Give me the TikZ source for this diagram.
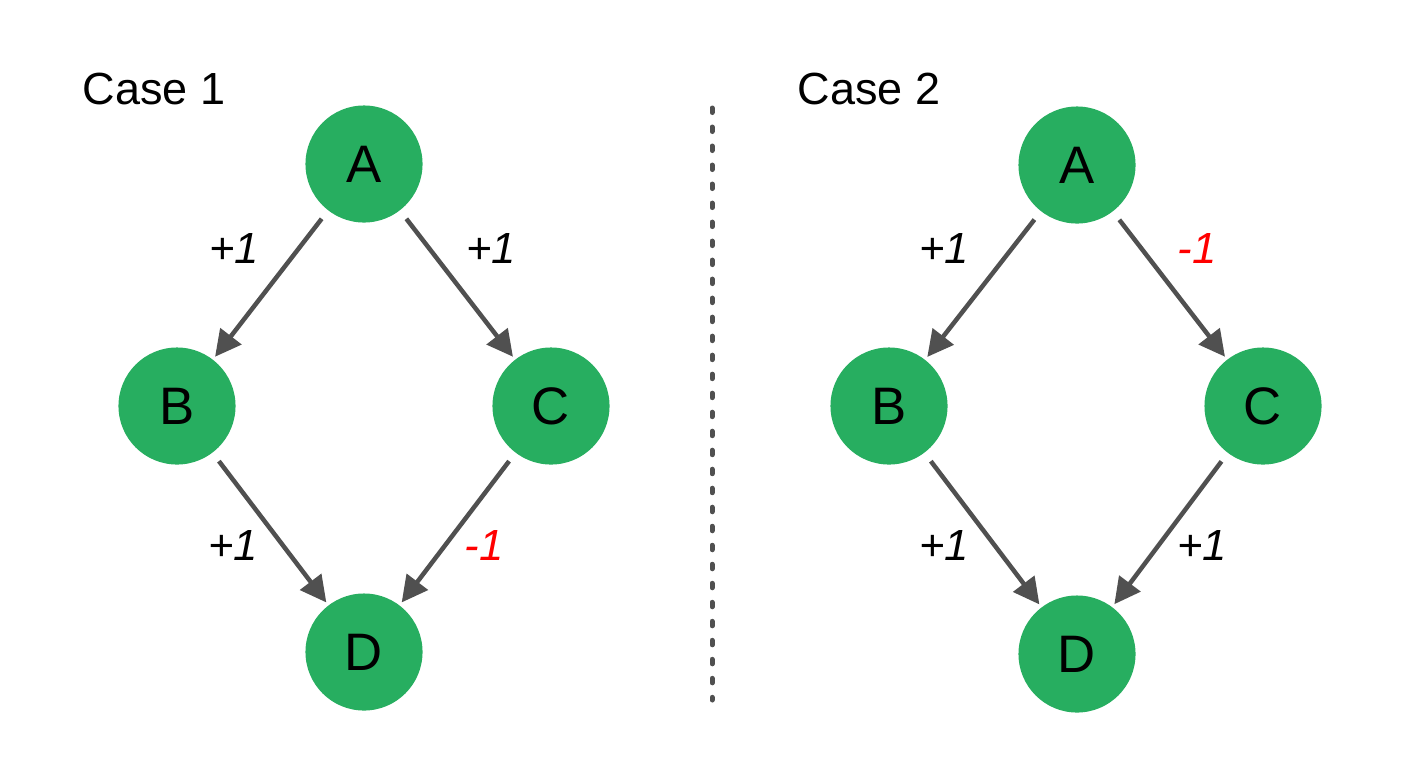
\documentclass[tikz,border=0pt]{standalone}
\usepackage{fontspec}
\setmainfont{Liberation Sans}
\usetikzlibrary{arrows.meta}
\definecolor{nodegreen}{RGB}{39,174,96}
\definecolor{edgegray}{RGB}{80,80,80}
\definecolor{negred}{RGB}{255,0,0}
\begin{document}
\begin{tikzpicture}[x=0.01cm,y=-0.01cm,
  vertex/.style={circle,fill=nodegreen,minimum size=1.17cm,inner sep=0pt,
    font=\fontsize{15}{15}\selectfont},
  edge/.style={draw=edgegray,line width=0.045cm,shorten <=0.1cm,shorten >=0.03cm,
    -{Triangle[length=0.26cm,width=0.26cm]}},
  weight/.style={font=\fontsize{12.4}{13}\selectfont\itshape},
  negweight/.style={weight,text=negred},
  title/.style={font=\fontsize{12.8}{13}\selectfont,anchor=base west,inner sep=0pt},
  divider/.style={draw=edgegray,line width=0.05cm,line cap=round,
    dash pattern=on 0.045cm off 0.145cm}]
\useasboundingbox (0,0) rectangle (1406,781);

% first case
\node[title] (t1) at (82,104) {Case 1};
\node[vertex] (A1) at (364,164) {A};
\node[vertex] (B1) at (177,406) {B};
\node[vertex] (C1) at (551,406) {C};
\node[vertex] (D1) at (364,652) {D};
\draw[edge] (A1) -- (B1);
\draw[edge] (A1) -- (C1);
\draw[edge] (B1) -- (D1);
\draw[edge] (C1) -- (D1);
\node[weight] (w1) at (234,248) {+1};
\node[weight] (w2) at (491,248) {+1};
\node[weight] (w3) at (233,545) {+1};
\node[negweight] (w4) at (484,545) {-1};

% separator
\coordinate (s1) at (712,108);
\coordinate (s2) at (712,700);
\draw[divider] (s1) -- (s2);

% second case
\node[title] (t2) at (797,104) {Case 2};
\node[vertex] (A2) at (1077,165) {A};
\node[vertex] (B2) at (889,406) {B};
\node[vertex] (C2) at (1263,406) {C};
\node[vertex] (D2) at (1077,654) {D};
\draw[edge] (A2) -- (B2);
\draw[edge] (A2) -- (C2);
\draw[edge] (B2) -- (D2);
\draw[edge] (C2) -- (D2);
\node[weight] (v1) at (944,248) {+1};
\node[negweight] (v2) at (1197,248) {-1};
\node[weight] (v3) at (944,545) {+1};
\node[weight] (v4) at (1202,545) {+1};
\end{tikzpicture}
\end{document}
